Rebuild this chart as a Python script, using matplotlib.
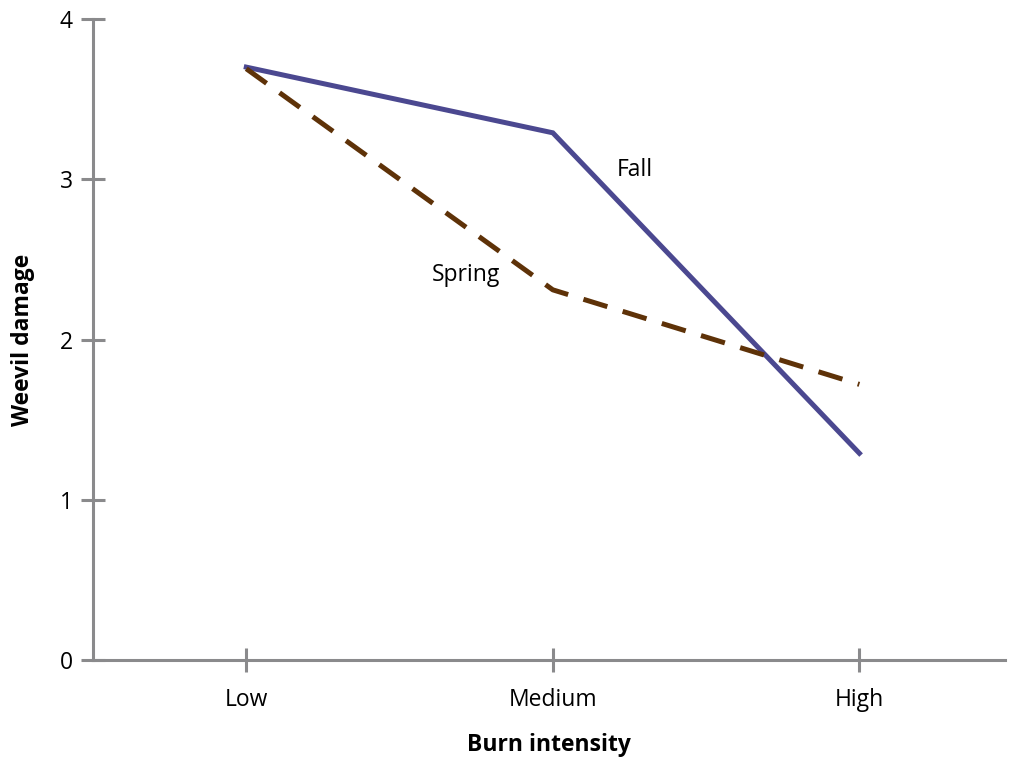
import matplotlib.pyplot as plt

plt.rcParams['font.family'] = ['Open Sans', 'DejaVu Sans']

# data
intensity = ['Low', 'Medium', 'High']
fall = [3.70, 3.29, 1.29]
spring = [3.69, 2.31, 1.72]
y_ticks = [0, 1, 2, 3, 4]

axis_grey = '#8a8a8c'

fig = plt.figure(figsize=(10.09, 7.62), dpi=100)
ax = fig.add_axes([0.0922, 0.1339, 0.9038, 0.8411])

x = range(len(intensity))
ax.plot(x, fall, color='#4b4890', lw=3.6, solid_joinstyle='miter')
ax.plot(x, spring, color='#5e3208', lw=3.6, dashes=(5, 3.2))

ax.text(1.267, 3.06, 'Fall', fontsize=16.5, ha='center', va='center')
ax.text(0.717, 2.40, 'Spring', fontsize=16.5, ha='center', va='center')

ax.set_xlim(-0.5, 2.475)
ax.set_ylim(0, 4)
ax.set_xticks(list(x))
ax.set_xticklabels(intensity)
ax.set_yticks(y_ticks)

for side in ['top', 'right']:
    ax.spines[side].set_visible(False)
for side in ['left', 'bottom']:
    ax.spines[side].set_color(axis_grey)
    ax.spines[side].set_linewidth(2.2)

ax.tick_params(axis='both', direction='inout', length=17, width=2.2,
               color=axis_grey, labelsize=16.5, labelcolor='black')
ax.tick_params(axis='x', pad=12)
ax.tick_params(axis='y', pad=6)

ax.set_xlabel('Burn intensity', fontsize=16.5, fontweight='bold', labelpad=15)
ax.set_ylabel('Weevil damage', fontsize=16.5, fontweight='bold', labelpad=18)

fig.savefig('out.png', dpi=100)
